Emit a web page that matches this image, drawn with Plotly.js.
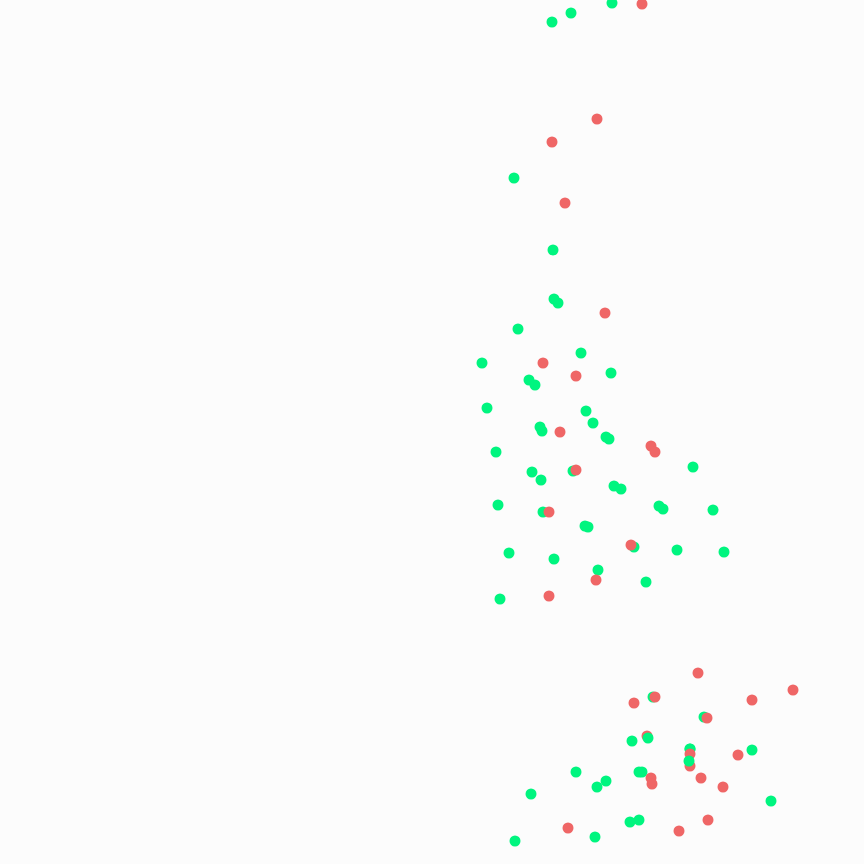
<!DOCTYPE html>
<html>
<head>
<meta charset="utf-8">
<script src="https://cdn.plot.ly/plotly-3.0.1.min.js"></script>
<style>html,body{margin:0;padding:0;background:#fcfcfc;}#chart{width:864px;height:864px;}</style>
</head>
<body>
<div id="chart"></div>
<script>
// Point values (x, y) with their group
const xVals = [612,571,552,514,553,554,558,518,581,482,611,529,535,487,586,593,540,542,606,609,496,693,573,532,541,614,621,498,543,659,663,713,585,588,634,677,724,509,554,598,646,500,
  642,597,552,565,605,543,576,560,651,655,576,549,631,596,549,
  653,704,632,690,752,576,639,642,606,597,531,771,639,630,595,515,
  698,793,655,634,752,707,738,651,652,701,723,708,679,568,
  647,648,690,690,690,689];
const yVals = [3,13,22,178,250,299,303,329,353,363,373,380,385,408,411,423,427,431,437,439,452,467,471,472,480,486,489,505,512,506,509,510,526,527,547,550,552,553,559,570,582,599,
  4,119,142,203,313,363,376,432,446,452,470,512,545,580,596,
  697,717,741,749,750,772,772,772,781,787,794,801,820,822,837,841,
  673,690,697,703,700,718,755,778,784,778,787,820,831,828,
  736,738,766,749,754,761];
const groups = ['A','A','A','A','A','A','A','A','A','A','A','A','A','A','A','A','A','A','A','A','A','A','A','A','A','A','A','A','A','A','A','A','A','A','A','A','A','A','A','A','A','A',
  'B','B','B','B','B','B','B','B','B','B','B','B','B','B','B',
  'A','A','A','A','A','A','A','A','A','A','A','A','A','A','A','A',
  'B','B','B','B','B','B','B','B','B','B','B','B','B','B',
  'B','A','B','A','B','A'];
const groupColors = {A:'#00f57f', B:'#ef6666'};

Plotly.newPlot('chart', [{
  type:'scatter', mode:'markers',
  x:xVals, y:yVals,
  marker:{size:11, color:groups.map(g=>groupColors[g]), line:{width:0}},
  hoverinfo:'skip'
}], {
  width:864, height:864,
  margin:{l:0,r:0,t:0,b:0},
  paper_bgcolor:'#fcfcfc', plot_bgcolor:'#fcfcfc',
  showlegend:false,
  xaxis:{range:[0,864], visible:false, fixedrange:true},
  yaxis:{range:[864,0], visible:false, fixedrange:true}
}, {displayModeBar:false, staticPlot:true});
</script>
</body>
</html>
